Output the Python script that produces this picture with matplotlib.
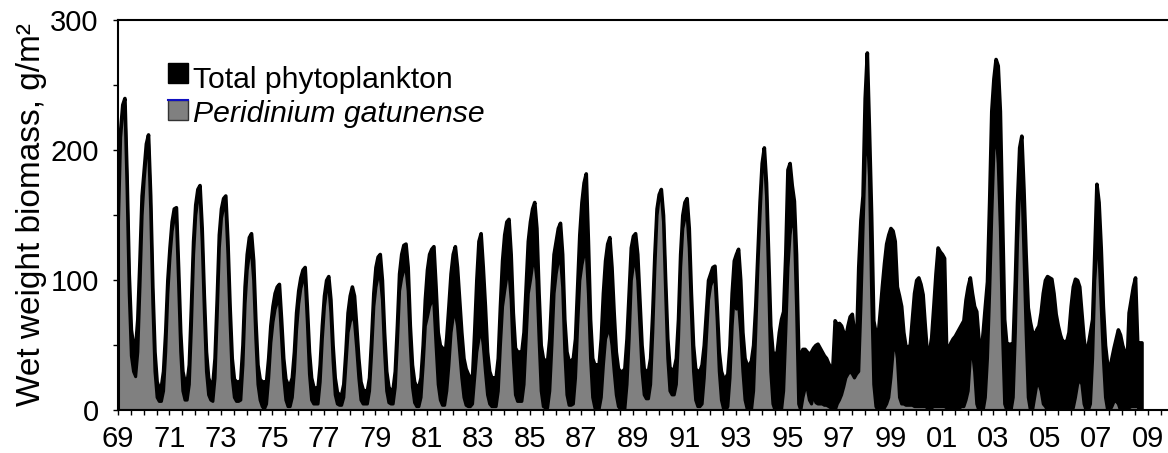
import matplotlib.pyplot as plt
import numpy as np
from matplotlib.lines import Line2D
from matplotlib.patches import Rectangle
from matplotlib.ticker import FixedLocator, FuncFormatter


START_YEAR = 1969

# monthly wet weight biomass (g/m2), one row per year, Jan..Dec
TOTAL = [
    150, 215, 235, 240, 180, 105, 62, 50, 48, 70, 115, 165,  # 69
    185, 205, 212, 165, 95, 45, 22, 17, 18, 30, 60, 100,  # 70
    125, 145, 155, 156, 110, 60, 30, 22, 21, 35, 80, 130,  # 71
    158, 170, 173, 140, 88, 45, 25, 20, 20, 40, 85, 135,  # 72
    155, 163, 165, 130, 80, 40, 24, 22, 22, 23, 50, 95,  # 73
    120, 133, 136, 115, 70, 35, 24, 22, 22, 22, 40, 65,  # 74
    80, 90, 95, 97, 70, 40, 24, 20, 20, 25, 45, 75,  # 75
    92, 102, 108, 110, 80, 45, 25, 18, 17, 17, 35, 65,  # 76
    88, 100, 103, 85, 50, 25, 14, 12, 12, 20, 45, 75,  # 77
    88, 95, 88, 65, 40, 22, 16, 15, 15, 25, 55, 90,  # 78
    110, 118, 120, 100, 60, 30, 18, 15, 16, 30, 65, 105,  # 79
    120, 127, 128, 110, 65, 35, 22, 18, 18, 25, 50, 85,  # 80
    108, 120, 124, 126, 95, 60, 50, 48, 38, 56, 80, 105,  # 81
    120, 126, 110, 85, 60, 40, 32, 28, 25, 25, 60, 100,  # 82
    130, 136, 110, 80, 45, 30, 25, 25, 25, 40, 80, 115,  # 83
    135, 145, 147, 120, 75, 48, 45, 45, 45, 60, 95, 130,  # 84
    145, 155, 160, 140, 90, 50, 40, 38, 38, 55, 90, 120,  # 85
    130, 140, 144, 120, 70, 45, 38, 38, 40, 55, 95, 135,  # 86
    160, 175, 182, 130, 70, 40, 35, 35, 35, 55, 90, 115,  # 87
    128, 133, 110, 75, 45, 32, 30, 30, 32, 55, 90, 125,  # 88
    134, 136, 120, 85, 50, 32, 30, 30, 40, 75, 120, 155,  # 89
    166, 170, 150, 100, 55, 33, 31, 32, 40, 70, 120, 150,  # 90
    160, 163, 140, 90, 50, 32, 30, 30, 35, 50, 75, 100,  # 91
    105, 110, 111, 80, 45, 30, 25, 25, 28, 50, 90, 115,  # 92
    120, 124, 100, 60, 40, 35, 35, 38, 50, 80, 120, 160,  # 93
    190, 202, 175, 120, 65, 45, 43, 45, 60, 70, 76, 120,  # 94
    185, 190, 173, 161, 120, 45, 43, 47, 47, 45, 43, 45,  # 95
    48, 50, 51, 48, 45, 42, 40, 36, 33, 35, 69, 66,  # 96
    67, 65, 60, 56, 65, 72, 74, 60, 50, 110, 146, 165,  # 97
    240, 275, 215, 150, 69, 60, 56, 75, 95, 113, 128, 135,  # 98
    140, 138, 130, 95, 88, 80, 60, 49, 49, 50, 70, 90,  # 99
    100, 102, 97, 89, 65, 43, 45, 56, 80, 105, 125, 122,  # 00
    120, 117, 45, 48, 52, 55, 57, 60, 63, 66, 69, 85,  # 01
    95, 102, 90, 80, 76, 55, 43, 60, 80, 99, 160, 230,  # 02
    255, 270, 265, 230, 150, 70, 51, 51, 51, 52, 100, 160,  # 03
    202, 211, 170, 120, 79, 68, 60, 58, 62, 65, 75, 90,  # 04
    100, 103, 102, 101, 90, 74, 65, 58, 53, 53, 53, 60,  # 05
    80, 95, 101, 100, 95, 75, 55, 43, 50, 60, 70, 120,  # 06
    174, 160, 125, 80, 50, 35, 32, 40, 48, 55, 62, 58,  # 07
    50, 45, 32, 75, 85, 95, 102, 52, 52, 52,  # 08
]

PERIDINIUM = [
    145, 210, 230, 234, 170, 90, 42, 30, 26, 45, 95, 150,  # 69
    178, 198, 205, 155, 82, 30, 10, 7, 7, 15, 45, 90,  # 70
    118, 138, 148, 148, 98, 45, 15, 8, 8, 20, 65, 120,  # 71
    150, 163, 166, 130, 76, 30, 12, 8, 7, 25, 72, 125,  # 72
    148, 156, 158, 120, 68, 25, 10, 7, 7, 8, 35, 82,  # 73
    108, 120, 122, 100, 55, 20, 8, 3, 1, 5, 25, 52,  # 74
    68, 78, 83, 85, 55, 25, 8, 3, 3, 10, 30, 62,  # 75
    82, 94, 100, 102, 68, 28, 8, 5, 5, 5, 22, 55,  # 76
    80, 93, 96, 75, 38, 12, 5, 4, 4, 10, 35, 60,  # 77
    68, 74, 68, 48, 25, 8, 5, 5, 5, 15, 45, 80,  # 78
    95, 103, 103, 85, 45, 15, 6, 5, 5, 18, 52, 92,  # 79
    102, 108, 109, 92, 50, 18, 6, 3, 3, 10, 35, 65,  # 80
    72, 80, 84, 82, 50, 20, 8, 4, 4, 15, 35, 60,  # 81
    72, 75, 65, 45, 25, 10, 4, 3, 3, 5, 25, 45,  # 82
    55, 63, 50, 30, 12, 5, 3, 3, 3, 15, 50, 80,  # 83
    92, 103, 106, 85, 40, 12, 7, 7, 7, 20, 55, 90,  # 84
    100, 112, 116, 100, 55, 15, 3, 2, 2, 15, 50, 90,  # 85
    105, 115, 117, 95, 45, 12, 4, 4, 5, 25, 65, 100,  # 86
    112, 120, 123, 90, 40, 10, 2, 1, 1, 10, 35, 55,  # 87
    60, 62, 50, 30, 12, 3, 1, 0, 1, 20, 55, 100,  # 88
    112, 115, 100, 65, 30, 12, 9, 9, 20, 60, 110, 150,  # 89
    164, 166, 145, 90, 40, 15, 12, 12, 20, 55, 110, 140,  # 90
    148, 151, 125, 75, 30, 8, 3, 3, 5, 25, 55, 85,  # 91
    96, 100, 102, 70, 30, 8, 1, 0, 3, 25, 65, 90,  # 92
    78, 82, 60, 30, 8, 1, 0, 0, 15, 60, 110, 150,  # 93
    185, 194, 165, 100, 30, 5, 0, 0, 0, 0, 15, 60,  # 94
    110, 135, 148, 140, 80, 5, 0, 10, 17, 17, 8, 5,  # 95
    12, 6, 5, 5, 5, 4, 4, 3, 2, 1, 0, 5,  # 96
    8, 12, 18, 25, 28, 30, 28, 25, 28, 30, 80, 140,  # 97
    195, 213, 180, 90, 20, 3, 0, 0, 0, 2, 5, 10,  # 98
    25, 45, 52, 40, 10, 5, 5, 4, 4, 4, 4, 3,  # 99
    3, 3, 3, 3, 3, 2, 2, 2, 3, 3, 3, 3,  # 00
    3, 3, 2, 2, 2, 2, 2, 2, 2, 3, 3, 8,  # 01
    15, 40, 45, 30, 5, 0, 0, 0, 10, 40, 90, 150,  # 02
    200, 215, 190, 140, 60, 5, 0, 0, 0, 10, 60, 130,  # 03
    170, 176, 120, 60, 10, 0, 0, 10, 20, 20, 15, 5,  # 04
    3, 0, 0, 0, 0, 0, 0, 0, 0, 0, 0, 0,  # 05
    0, 2, 10, 20, 24, 20, 5, 0, 0, 5, 40, 100,  # 06
    125, 120, 80, 40, 10, 0, 0, 3, 7, 7, 5, 0,  # 07
    0, 0, 0, 2, 3, 3, 3, 3, 0, 0,  # 08
]

LABEL_YEARS = list(range(1969, 2010, 2))
Y_TICKS = [0, 100, 200, 300]


def main():
    plt.rcParams["font.family"] = ["Liberation Sans", "DejaVu Sans"]

    fig = plt.figure(figsize=(11.68, 4.53), dpi=100)
    ax = fig.add_axes([118 / 1168, 1 - 410 / 453, 1050 / 1168, 390 / 453])

    months = START_YEAR + np.arange(len(TOTAL)) / 12

    ax.fill_between(months, TOTAL, facecolor="black", edgecolor="black",
                    linewidth=2.6, joinstyle="round")
    ax.fill_between(months, PERIDINIUM, facecolor="#808080", edgecolor="black",
                    linewidth=2.2, joinstyle="round")

    ax.set_xlim(1969, 2009.78)
    ax.set_ylim(0, 300)

    ax.xaxis.set_major_locator(FixedLocator(LABEL_YEARS))
    ax.xaxis.set_minor_locator(FixedLocator(np.arange(1969, 2010, 0.5)))
    ax.xaxis.set_major_formatter(FuncFormatter(lambda v, pos: f"{int(round(v)) % 100:02d}"))
    ax.yaxis.set_major_locator(FixedLocator(Y_TICKS))
    ax.yaxis.set_minor_locator(FixedLocator(np.arange(0, 301, 50)))

    ax.tick_params(which="both", direction="out", length=3.8, width=1.0, color="black")
    ax.tick_params(axis="x", labelsize=21, pad=7)
    ax.tick_params(axis="y", labelsize=21, pad=10)

    for side in ["left", "bottom", "top"]:
        ax.spines[side].set_linewidth(1.5)
    ax.spines["right"].set_visible(False)

    ax.set_ylabel("Wet weight biomass, g/m²", fontsize=24)
    ax.yaxis.set_label_coords(-0.068, 0.5)

    # hand-drawn legend, as in the original figure
    ax.add_patch(Rectangle((50 / 1050, (410 - 83) / 390), 20 / 1050, 20 / 390,
                           transform=ax.transAxes, facecolor="black", edgecolor="black",
                           linewidth=1, zorder=5))
    ax.add_patch(Rectangle((50 / 1050, (410 - 120) / 390), 20 / 1050, 20 / 390,
                           transform=ax.transAxes, facecolor="#808080", edgecolor="#333333",
                           linewidth=1, zorder=5))
    ax.add_line(Line2D([50 / 1050, 70 / 1050], [(410 - 100) / 390] * 2, transform=ax.transAxes,
                       color="#1010c0", linewidth=1.5, zorder=6))
    ax.text(75 / 1050, (410 - 88) / 390, "Total phytoplankton", transform=ax.transAxes,
            fontsize=21.7, va="baseline", ha="left")
    ax.text(75 / 1050, (410 - 122) / 390, "Peridinium gatunense", transform=ax.transAxes,
            fontsize=21.7, va="baseline", ha="left", style="italic")

    fig.savefig("out.png", dpi=100)


if __name__ == "__main__":
    main()
